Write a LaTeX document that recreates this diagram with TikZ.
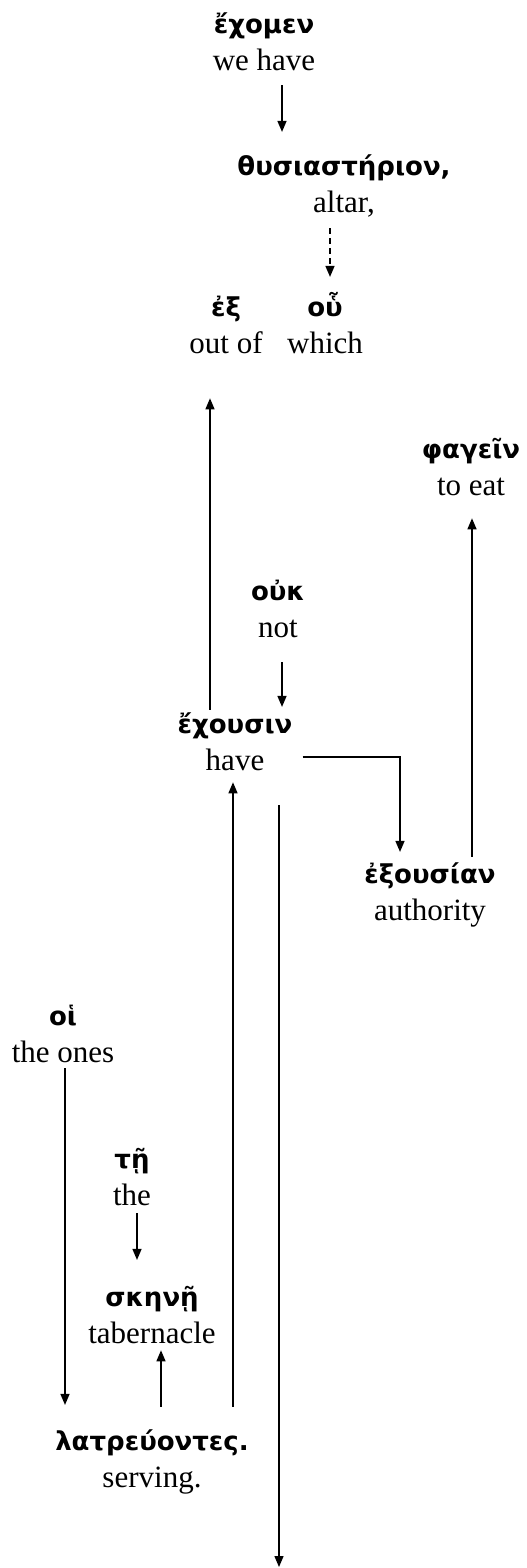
\documentclass[tikz,border=0pt]{standalone}
\usepackage{fontspec}
\setmainfont{Liberation Serif}
\newfontfamily\grk{DejaVu Sans}
\usetikzlibrary{arrows.meta}

\newcommand\gr[1]{{\fontsize{26}{37}\selectfont\grk\bfseries #1}\strut}
\newcommand\gloss[2]{\gr{#1}\\#2\strut}

\begin{document}
\begin{tikzpicture}[x=1pt, y=-1pt,
    word/.style={align=center, inner sep=0pt, anchor=base, font=\fontsize{31}{37}\selectfont},
    arr/.style={line width=1.4pt, -{Triangle[width=9pt,length=11pt]}}]
    \useasboundingbox (0,0) rectangle (527,1568);
    % words with glosses (placed at the baseline of the gloss)
    \node[word] (echomen) at (264,71) {\gloss{ἔχομεν}{we have}};
    \node[word] (thysiasterion) at (344,212) {\gloss{θυσιαστήριον,}{altar,}};
    \node[word] (ex) at (226,353) {\gloss{ἐξ}{out of}};
    \node[word] (hou) at (325,353) {\gloss{οὗ}{which}};
    \node[word] (phagein) at (471,495) {\gloss{φαγεῖν}{to eat}};
    \node[word] (ouk) at (278,637) {\gloss{οὐκ}{not}};
    \node[word] (echousin) at (235,770) {\gloss{ἔχουσιν}{have}};
    \node[word] (exousian) at (430,920) {\gloss{ἐξουσίαν}{authority}};
    \node[word] (hoi) at (63,1062) {\gloss{οἱ}{the ones}};
    \node[word] (te) at (132,1205) {\gloss{τῇ}{the}};
    \node[word] (skene) at (152,1343) {\gloss{σκηνῇ}{tabernacle}};
    \node[word] (latreuontes) at (152,1487) {\gloss{λατρεύοντες.}{serving.}};
    \coordinate (tail) at (279,1567);
    % connectors
    \draw[arr, shorten <=3pt, shorten >=17pt] ([xshift=18pt]echomen.south) -- ([xshift=18pt]echomen.south |- thysiasterion.north);
    \draw[arr, dash pattern=on 6pt off 4pt, shorten <=5pt, shorten >=13pt] ([xshift=-14pt]thysiasterion.south) -- ([xshift=-14pt]thysiasterion.south |- hou.north);
    \draw[arr, shorten <=-3pt, shorten >=34pt] ([xshift=-25pt]echousin.north) -- ([xshift=-25pt]echousin.north |- ex.south);
    \draw[arr, shorten <=14pt] ([xshift=4pt]ouk.south) -- ([xshift=4pt]ouk.south |- echousin.north);
    \draw[arr] ([xshift=10pt,yshift=-13pt]echousin.east) -| ([xshift=-30pt,yshift=5pt]exousian.north);
    \draw[arr, shorten >=12pt] ([xshift=42pt]exousian.north) -- ([xshift=42pt]exousian.north |- phagein.south);
    \draw[arr, shorten <=17pt, shorten >=1pt] ([xshift=81pt]latreuontes.north) -- ([xshift=81pt]latreuontes.north |- echousin.south);
    \draw[arr, shorten <=24pt] ([xshift=44pt]echousin.south) -- (tail);
    \draw[arr, shorten <=-5pt, shorten >=19pt] ([xshift=2pt]hoi.south) -- ([xshift=2pt]hoi.south |- latreuontes.north);
    \draw[arr, shorten <=-3pt, shorten >=20pt] ([xshift=5pt]te.south) -- ([xshift=5pt]te.south |- skene.north);
    \draw[arr, shorten <=17pt, shorten >=-4pt] ([xshift=9pt]latreuontes.north) -- ([xshift=9pt]latreuontes.north |- skene.south);
\end{tikzpicture}
\end{document}
